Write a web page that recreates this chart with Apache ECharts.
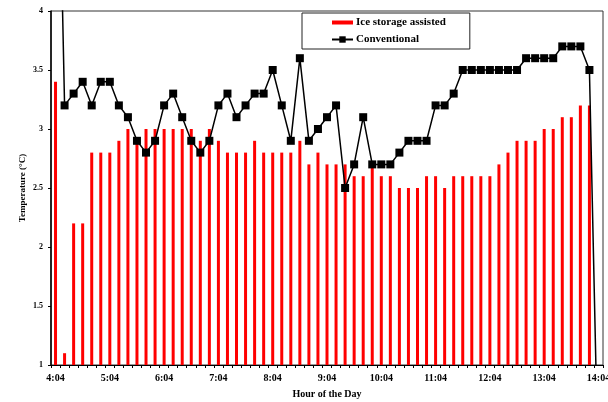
<!DOCTYPE html>
<html>
<head>
<meta charset="utf-8">
<script src="https://cdn.jsdelivr.net/npm/echarts@6/dist/echarts.min.js"></script>
<style>
  html, body { margin: 0; padding: 0; background: #fff; }
  #chart { width: 608px; height: 402px; }
</style>
</head>
<body>
<div id="chart"></div>
<script>
// Ten-minute readings from 4:04 to 14:04
const hours = [4, 5, 6, 7, 8, 9, 10, 11, 12, 13, 14];
const times = [];
hours.forEach(function (h, k) {
  const last = k === hours.length - 1;
  ['04', '14', '24', '34', '44', '54'].forEach(function (m, j) {
    if (!last || j === 0) times.push(h + ':' + m);
  });
});

// Chilled-water supply temperature, ice storage assisted (°C)
const iceStorage = [
  3.4, 1.1, 2.2, 2.2, 2.8, 2.8, 2.8, 2.9, 3.0, 2.9,
  3.0, 3.0, 3.0, 3.0, 3.0, 3.0, 2.9, 3.0, 2.9, 2.8,
  2.8, 2.8, 2.9, 2.8, 2.8, 2.8, 2.8, 2.9, 2.7, 2.8,
  2.7, 2.7, 2.7, 2.6, 2.6, 2.7, 2.6, 2.6, 2.5, 2.5,
  2.5, 2.6, 2.6, 2.5, 2.6, 2.6, 2.6, 2.6, 2.6, 2.7,
  2.8, 2.9, 2.9, 2.9, 3.0, 3.0, 3.1, 3.1, 3.2, 3.2,
  null
];

// Chilled-water supply temperature, conventional system (°C)
const conventional = [
  6.8, 3.2, 3.3, 3.4, 3.2, 3.4, 3.4, 3.2, 3.1, 2.9,
  2.8, 2.9, 3.2, 3.3, 3.1, 2.9, 2.8, 2.9, 3.2, 3.3,
  3.1, 3.2, 3.3, 3.3, 3.5, 3.2, 2.9, 3.6, 2.9, 3.0,
  3.1, 3.2, 2.5, 2.7, 3.1, 2.7, 2.7, 2.7, 2.8, 2.9,
  2.9, 2.9, 3.2, 3.2, 3.3, 3.5, 3.5, 3.5, 3.5, 3.5,
  3.5, 3.5, 3.6, 3.6, 3.6, 3.6, 3.7, 3.7, 3.7, 3.5,
  0
];

const seriesNames = ['Ice storage assisted', 'Conventional'];
const FONT = '"Liberation Serif", "Times New Roman", serif';

const chart = echarts.init(document.getElementById('chart'), null, { renderer: 'canvas' });

chart.setOption({
  animation: false,
  backgroundColor: '#fff',
  textStyle: { fontFamily: FONT, color: '#000' },
  grid: {
    left: 51, right: 5, top: 11, bottom: 37,
    outerBoundsMode: 'none',
    containLabel: false,
    show: true, borderColor: '#333', borderWidth: 1
  },
  legend: {
    left: 302, top: 13,
    orient: 'vertical',
    itemWidth: 21, itemHeight: 8, itemGap: 6,
    padding: [4, 24, 4, 29],
    borderColor: '#222', borderWidth: 1,
    backgroundColor: '#fff',
    textStyle: { fontFamily: FONT, fontWeight: 'bold', fontSize: 11, color: '#000', padding: [0, 0, 0, -2] },
    data: [
      { name: seriesNames[0], icon: 'path://M0,0 H21 V4 H0 Z' },
      { name: seriesNames[1] }
    ]
  },
  xAxis: {
    type: 'category',
    data: times,
    boundaryGap: true,
    name: 'Hour of the Day',
    nameLocation: 'middle',
    nameGap: 24,
    nameMoveOverlap: false,
    nameTextStyle: { fontFamily: FONT, fontWeight: 'bold', fontSize: 10, color: '#000' },
    axisLine: { lineStyle: { color: '#000', width: 1 } },
    axisTick: { show: true, interval: 0, length: 3, inside: false, lineStyle: { color: '#000' } },
    axisLabel: {
      interval: 5, margin: 8, hideOverlap: false,
      fontFamily: FONT, fontWeight: 'bold', fontSize: 10, color: '#000'
    },
    splitLine: { show: false }
  },
  yAxis: {
    type: 'value',
    min: 1, max: 4, interval: 0.5,
    name: 'Temperature (°C)',
    nameLocation: 'middle',
    nameGap: 24,
    nameRotate: 90,
    nameMoveOverlap: false,
    nameTextStyle: { fontFamily: FONT, fontWeight: 'bold', fontSize: 9, color: '#000' },
    axisLine: { show: true, lineStyle: { color: '#000', width: 1.5 } },
    axisTick: { show: true, length: 3, lineStyle: { color: '#000' } },
    axisLabel: { margin: 8, fontFamily: FONT, fontWeight: 'bold', fontSize: 8, color: '#000' },
    splitLine: { show: false }
  },
  series: [
    {
      name: seriesNames[0],
      type: 'bar',
      data: iceStorage,
      barWidth: 3,
      clip: true,
      itemStyle: { color: '#ff0000' }
    },
    {
      name: seriesNames[1],
      type: 'line',
      data: conventional,
      clip: true,
      symbol: 'rect',
      symbolSize: 8,
      showAllSymbol: true,
      lineStyle: { color: '#000', width: 1.5 },
      itemStyle: { color: '#000' }
    }
  ]
});
</script>
</body>
</html>
